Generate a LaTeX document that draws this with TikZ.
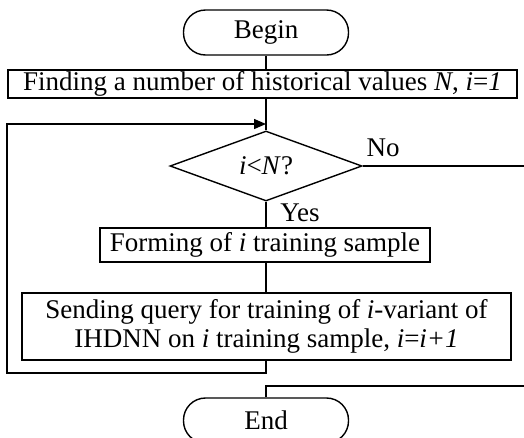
\documentclass[tikz,border=0pt]{standalone}
\usepackage{fontspec}
\setmainfont{Liberation Serif}
\usepackage{tikz}
\usetikzlibrary{shapes.geometric, arrows.meta}

\begin{document}
\begin{tikzpicture}[
x=1pt, y=-1pt,
line width=1.4pt,
font=\fontsize{27}{29}\selectfont,
terminal/.style={draw, rounded corners=22pt, minimum width=165pt, minimum height=45pt, inner sep=0pt},
process/.style={draw, minimum height=28pt, inner sep=0pt, align=center},
decision/.style={draw, diamond, aspect=2.74, minimum width=192pt, minimum height=70pt, inner sep=0pt}
]
\clip (0,0) rectangle (524,437);

% Blocks
\node[terminal] (start) at (266,32.5) {Begin};
\node[process, minimum width=509pt] (find) at (262.5,84) {Finding a number of historical values \textit{N}, \textit{i}=\textit{1}};
\node[decision] (check) at (266,166) {\textit{i}<\textit{N}?};
\node[process, minimum width=330pt, minimum height=34pt] (form) at (265,245) {Forming of \textit{i} training sample};
\node[process, minimum width=489pt, minimum height=67pt] (send) at (266.5,326.5) {Sending query for training of \textit{i}-variant of\\IHDNN on \textit{i} training sample, \textit{i}=\textit{i+1}};
\node[terminal] (stop) at (266,420.5) {End};

% Labels
\node (yes) at (300,213) {Yes};
\node (no) at (383,148) {No};

% Helper points
\coordinate (back) at (266,373);
\coordinate (lp) at (7,124);
\coordinate (jn) at (266,124);
\coordinate (rt) at (545,166);
\coordinate (mrg) at (266,386);

% Connections
\draw (start.south) -- (start.south |- find.north);
\draw (find.south -| check.north) -- (check.north);
\draw (check.south) -- (check.south |- form.north);
\draw (form.south -| back) -- (send.north -| back);
\draw[-{Triangle[length=12pt, width=10pt]}] (send.south -| back) -- (back) -| (lp) -- (jn);
\draw (check.east) -- (rt) |- (mrg) -- (stop.north);

\end{tikzpicture}
\end{document}
